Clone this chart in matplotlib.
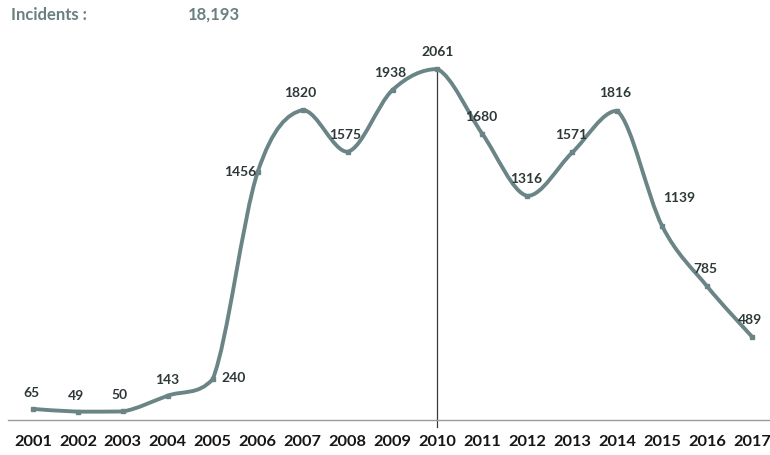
''' INCIDENTS PER YEAR 2001-2017 '''

import numpy as np
import matplotlib.pyplot as plt
from matplotlib.path import Path
from matplotlib.patches import PathPatch

plt.rcParams['font.family'] = ['Lato', 'DejaVu Sans']

# DATA
years = [2001, 2002, 2003, 2004, 2005, 2006, 2007, 2008, 2009,
         2010, 2011, 2012, 2013, 2014, 2015, 2016, 2017]
incidents = [65, 49, 50, 143, 240, 1456, 1820, 1575, 1938,
             2061, 1680, 1316, 1571, 1816, 1139, 785, 489]
total_label = "18,193"
marker_year = 2010

# LABEL OFFSETS (pixels, relative to each point)
label_offsets = [(-2, 17), (-2, 17), (-3, 17), (-1, 17), (21, 2), (-17, 1),
                 (-2, 18), (-2, 18), (-2, 18), (0, 18), (-1, 18), (-1, 18),
                 (-1, 18), (-2, 19), (17, 29), (-2, 18), (-2, 18)]

line_color = "#6b8586"
text_color = "#2e3838"

fig = plt.figure(figsize=(7.7, 4.56), dpi=100)
ax = fig.add_axes([8 / 770, 35 / 456, 762 / 770, 361 / 456])
ax.set_xlim(2000.444, 2017.40)
ax.set_ylim(0, 2120)

# SMOOTHED LINE (Bezier through each point, control points kept inside each segment)
pts = np.column_stack([years, incidents]).astype(float)
verts = [pts[0]]
codes = [Path.MOVETO]
n = len(pts)
for i in range(n - 1):
    p0 = pts[i - 1] if i > 0 else pts[i]
    p1 = pts[i]
    p2 = pts[i + 1]
    p3 = pts[i + 2] if i + 2 < n else pts[i + 1]
    c1 = p1 + (p2 - p0) / 6.0
    c2 = p2 - (p3 - p1) / 6.0
    lo, hi = min(p1[1], p2[1]), max(p1[1], p2[1])
    c1[1] = np.clip(c1[1], lo, hi)
    c2[1] = np.clip(c2[1], lo, hi)
    verts += [c1, c2, p2]
    codes += [Path.CURVE4] * 3
ax.add_patch(PathPatch(Path(verts, codes), facecolor="none",
                       edgecolor=line_color, lw=2.8, capstyle="round",
                       joinstyle="round", zorder=3))
ax.plot(years, incidents, ls="none", marker="s", ms=3.5,
        color=line_color, zorder=4)

# DATA LABELS
for x, y, off in zip(years, incidents, label_offsets):
    ax.annotate(str(y), (x, y), xytext=off, textcoords="offset pixels",
                ha="center", va="center", fontsize=10, fontweight="bold",
                color=text_color, zorder=5)

# VERTICAL MARKER LINE
peak = incidents[years.index(marker_year)]
ax.plot([marker_year, marker_year], [-40, peak], color="#3a3a3a", lw=0.9,
        clip_on=False, zorder=2)

# AXES STYLE
for s in ["top", "right", "left"]:
    ax.spines[s].set_visible(False)
ax.spines["bottom"].set_color("#9a9a9a")
ax.spines["bottom"].set_linewidth(1.0)
ax.set_yticks([])
ax.set_xticks(years)
ax.set_xticklabels([str(y) for y in years], fontsize=11.8, fontweight="bold",
                   color="#161616")
ax.tick_params(axis="x", length=0, pad=10)

# TITLE TEXT
fig.text(11 / 770, 1 - 15 / 456, "Incidents :", fontsize=12,
         fontweight="bold", color="#6a8080", va="center", ha="left")
fig.text(188 / 770, 1 - 15 / 456, total_label, fontsize=12,
         fontweight="bold", color="#6a8080", va="center", ha="left")

plt.savefig("out.png", dpi=100)
